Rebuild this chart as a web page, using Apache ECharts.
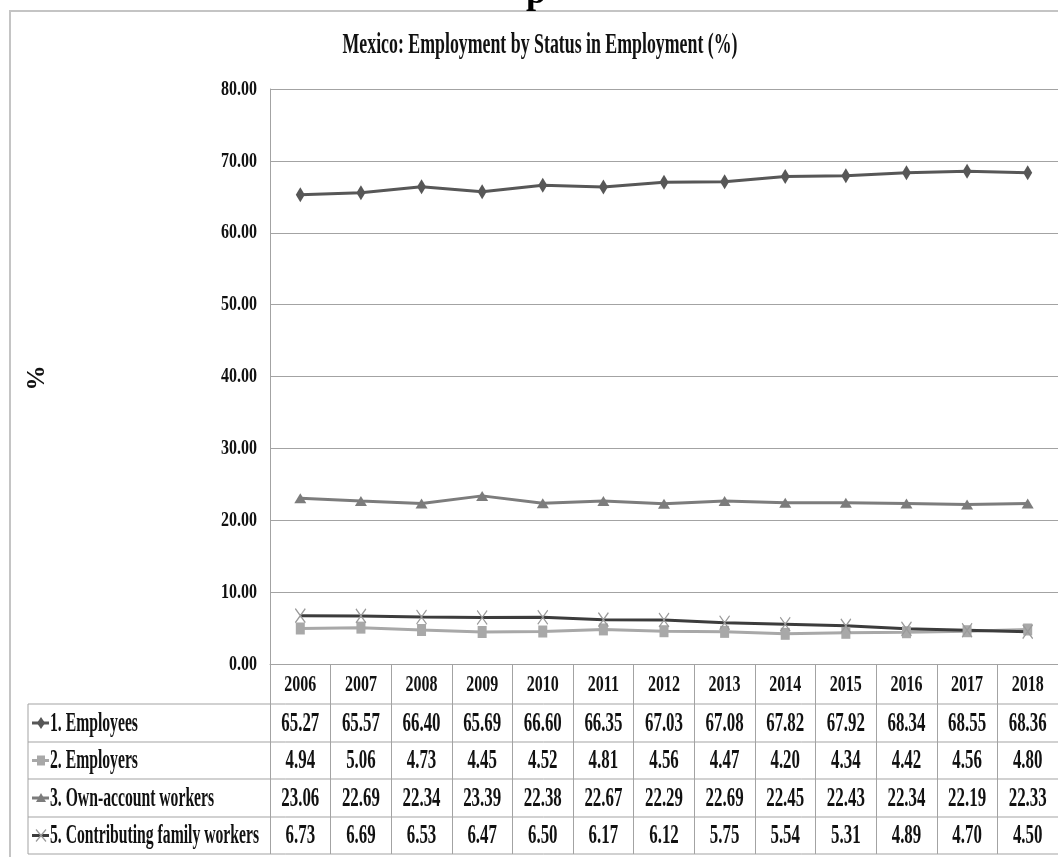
<!DOCTYPE html>
<html><head><meta charset="utf-8">
<script src="https://cdn.jsdelivr.net/npm/echarts@6/dist/echarts.min.js"></script>
<style>html,body{margin:0;padding:0;background:#fff}#c{width:1058px;height:857px}</style>
</head><body><div id="c"></div>
<script>
const years = ['2006','2007','2008','2009','2010','2011','2012','2013','2014','2015','2016','2017','2018'];
const employees  = [65.27,65.57,66.40,65.69,66.60,66.35,67.03,67.08,67.82,67.92,68.34,68.55,68.36];
const employers  = [4.94,5.06,4.73,4.45,4.52,4.81,4.56,4.47,4.20,4.34,4.42,4.56,4.80];
const ownAccount = [23.06,22.69,22.34,23.39,22.38,22.67,22.29,22.69,22.45,22.43,22.34,22.19,22.33];
const family     = [6.73,6.69,6.53,6.47,6.50,6.17,6.12,5.75,5.54,5.31,4.89,4.70,4.50];
const seriesNames = ['1. Employees','2. Employers','3. Own-account workers','5. Contributing family workers'];
const yTicks = [0,10,20,30,40,50,60,70,80];
const chartTitle = 'Mexico: Employment by Status in Employment (%)';
const yAxisName = '%';

const FF = "'Liberation Serif','Times New Roman',serif";
const cv = document.createElement('canvas').getContext('2d');
function mw(t, f){ cv.font = f; return cv.measureText(t).width; }

const colEmp = '#575757', colEmpr = '#a8a8a8', colOwn = '#7c7c7c', colFam = '#3c3c3c', colX = '#9a9a9a';
const lineGray = '#a3a3a3';

const GL = 270, GT = 89, GW = 791, GH = 575;
const tableRows = [704, 742, 779, 817, 854];

const chart = echarts.init(document.getElementById('c'), null, {renderer:'canvas'});
const option = {
  animation: false,
  backgroundColor: '#fff',
  grid: {left: GL, top: GT, width: GW, height: GH, containLabel: false},
  xAxis: {
    type: 'category', data: years, boundaryGap: true,
    axisLine: {show: true, lineStyle: {color: lineGray, width: 1}},
    axisTick: {show: true, length: tableRows[4] - (GT + GH), lineStyle: {color: lineGray, width: 1}},
    axisLabel: {show: false}
  },
  yAxis: {
    type: 'value', min: 0, max: 80, interval: 10,
    axisLine: {show: true, lineStyle: {color: lineGray, width: 1}},
    axisTick: {show: false},
    axisLabel: {show: false},
    splitLine: {show: true, lineStyle: {color: lineGray, width: 1}}
  },
  series: [
    {name: seriesNames[0], type: 'line', data: employees, symbol: 'diamond', symbolSize: [9, 15],
     lineStyle: {color: colEmp, width: 3}, itemStyle: {color: colEmp}},
    {name: seriesNames[1], type: 'line', data: employers, symbol: 'rect', symbolSize: [9, 12],
     lineStyle: {color: colEmpr, width: 3}, itemStyle: {color: colEmpr}},
    {name: seriesNames[2], type: 'line', data: ownAccount, symbol: 'triangle', symbolSize: [12, 10],
     lineStyle: {color: colOwn, width: 3}, itemStyle: {color: colOwn}},
    {name: seriesNames[3], type: 'line', data: family, symbol: 'path://M0,0L10,14M10,0L0,14', symbolSize: [10, 14],
     lineStyle: {color: colFam, width: 3}, itemStyle: {color: 'rgba(0,0,0,0)', borderColor: colX, borderWidth: 1.3}}
  ]
};
chart.setOption(option);

function T(str, x, y, font, sx, align, color, rot) {
  return {type: 'text', x: x, y: y, scaleX: sx, rotation: rot || 0, silent: true, z: 10,
    style: {text: str, font: font, textAlign: align, align: align, textVerticalAlign: 'middle', verticalAlign: 'middle', fill: color || '#111'}};
}
function L(x1, y1, x2, y2, c, w) {
  return {type: 'line', silent: true, z: 5, shape: {x1: x1, y1: y1, x2: x2, y2: y2}, style: {stroke: c || lineGray, lineWidth: w || 1}};
}

const els = [];
// outer frame
els.push({type: 'rect', silent: true, z: 1, shape: {x: 10, y: 11, width: 1070, height: 870}, style: {fill: 'none', stroke: '#c4c4c4', lineWidth: 2}});
// cut-off heading glyph above frame
els.push(T('p', 536, -6, 'bold 36px ' + FF, 1, 'center', '#000'));
// title
const fTitle = 'bold 30px ' + FF;
els.push(T(chartTitle, 540, 45, fTitle, 395 / mw(chartTitle, fTitle), 'center', '#111'));
// y axis name
const fAx = 'bold 25px ' + FF;
els.push(T(yAxisName, 38, 378, fAx, 1, 'center', '#111', Math.PI / 2));
// y tick labels
const fY = 'bold 22px ' + FF;
const sY = 28 / mw('0.00', fY);
yTicks.forEach(v => {
  const py = chart.convertToPixel({yAxisIndex: 0}, v);
  els.push(T(v.toFixed(2), 257, py, fY, sY, 'right', '#111'));
});
// table lines
tableRows.forEach(y => els.push(L(28, y, GL + GW, y)));
els.push(L(28, tableRows[0], 28, tableRows[4]));
// header years and values
const fYr = 'bold 24px ' + FF;
const sYr = 32 / mw('2006', fYr);
const fV = 'bold 27px ' + FF;
const sV = 38 / mw('65.27', fV);
const rowData = [employees, employers, ownAccount, family];
const rowMid = [];
for (let r = 0; r < 4; r++) rowMid.push((tableRows[r] + tableRows[r + 1]) / 2);
years.forEach((yr, i) => {
  const px = chart.convertToPixel({xAxisIndex: 0}, i);
  els.push(T(yr, px, (GT + GH + tableRows[0]) / 2 + 1, fYr, sYr, 'center', '#111'));
  rowData.forEach((arr, r) => {
    els.push(T(arr[i].toFixed(2), px, rowMid[r] + 1, fV, sV, 'center', '#111'));
  });
});
// row labels with legend keys
const fL = 'bold 27px ' + FF;
const sL = 209 / mw(seriesNames[3], fL);
const keyCol = [colEmp, colEmpr, colOwn, colFam];
rowMid.forEach((y, r) => {
  els.push(L(32, y, 49, y, keyCol[r], 3));
  const cx = 41;
  if (r === 0) els.push({type: 'polygon', silent: true, z: 6, shape: {points: [[cx, y - 6], [cx + 4, y], [cx, y + 6], [cx - 4, y]]}, style: {fill: colEmp}});
  if (r === 1) els.push({type: 'rect', silent: true, z: 6, shape: {x: cx - 4, y: y - 5, width: 8, height: 10}, style: {fill: colEmpr}});
  if (r === 2) els.push({type: 'polygon', silent: true, z: 6, shape: {points: [[cx, y - 5], [cx + 5, y + 4], [cx - 5, y + 4]]}, style: {fill: colOwn}});
  if (r === 3) {
    els.push({type: 'line', silent: true, z: 6, shape: {x1: cx - 5, y1: y - 6, x2: cx + 5, y2: y + 6}, style: {stroke: colX, lineWidth: 1.2}});
    els.push({type: 'line', silent: true, z: 6, shape: {x1: cx + 5, y1: y - 6, x2: cx - 5, y2: y + 6}, style: {stroke: colX, lineWidth: 1.2}});
  }
  els.push(T(seriesNames[r], 50, y + 1, fL, sL, 'left', '#111'));
});
chart.setOption({graphic: {elements: els}});
</script>
</body></html>
